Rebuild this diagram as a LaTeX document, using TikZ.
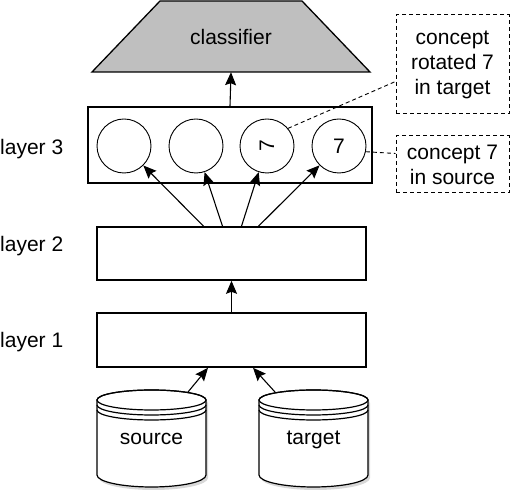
\documentclass[tikz,border=0pt]{standalone}
\usepackage{fontspec}
\setmainfont{Liberation Sans}
\usepackage{graphicx}
\usetikzlibrary{shapes.geometric, arrows.meta, shadows}

\begin{document}
\begin{tikzpicture}[
    x=1pt, y=1pt,
    font=\fontsize{21}{25}\selectfont,
    layerbox/.style={rectangle, draw, line width=1.6pt, minimum width=269pt, minimum height=53pt},
    unit/.style={circle, draw, line width=0.9pt, minimum size=54pt, inner sep=0pt},
    note/.style={rectangle, draw, dash pattern=on 4pt off 3pt, line width=1pt, minimum width=113pt, align=center, inner sep=0pt},
    arrow/.style={-{Stealth[length=13pt, width=11pt, inset=2pt]}, line width=1.1pt},
    link/.style={dash pattern=on 4pt off 3pt, line width=0.9pt},
    label/.style={anchor=base west, inner sep=0pt},
    db/.style={line width=1.2pt}
]
\useasboundingbox (0,0) rectangle (512,498);

% Classifier
\coordinate (clfsw) at (92,426);
\coordinate (clfse) at (370,426);
\draw[line width=1.3pt, fill=gray!50] (clfsw) -- ([xshift=68pt, yshift=71pt]clfsw)
  -- ([xshift=-68pt, yshift=71pt]clfse) -- (clfse) -- cycle;
\node[minimum width=278pt, minimum height=71pt, inner sep=0pt] (clf) at (231,461.5) {classifier};

% Layer 3 with units
\node[rectangle, draw, line width=1.6pt, minimum width=284pt, minimum height=76pt] (l3) at (230,353) {};
\node[unit] (c1) at (124,352) {};
\node[unit] (c2) at (196,352) {};
\node[unit] (c3) at (267,352) {\rotatebox{90}{7}};
\node[unit] (c4) at (339,352) {7};

% Layer 2 and layer 1
\node[layerbox] (l2) at (231.5,244.5) {};
\node[layerbox, minimum height=54pt] (l1) at (231.5,158) {};

% Layer labels
\node[label] (lab3) at (0,343) {layer 3};
\node[label] (lab2) at (0,246) {layer 2};
\node[label] (lab1) at (0,150) {layer 1};

% Notes
\node[note, minimum height=99pt] (note1) at (452.5,433.5) {concept\\rotated 7\\in target};
\node[note, minimum height=57pt] (note2) at (452.5,333.5) {concept 7\\in source};

% Data sets
\foreach \cx/\cname/\ctext in {151.5/src/source, 313.5/tgt/target}{
  \draw[db, fill=white, drop shadow={shadow xshift=2pt, shadow yshift=-3pt, fill=gray!60, opacity=0.5}]
    (\cx-54.5,98) -- (\cx-54.5,23) arc[start angle=180, end angle=360, x radius=54.5, y radius=12]
    -- (\cx+54.5,98) arc[start angle=0, end angle=180, x radius=54.5, y radius=10] -- cycle;
  \draw[db] (\cx,98) ellipse[x radius=54.5, y radius=10];
  \draw[db] (\cx-54.5,93) arc[start angle=180, end angle=360, x radius=54.5, y radius=10];
  \draw[db] (\cx-54.5,88) arc[start angle=180, end angle=360, x radius=54.5, y radius=10];
  \node[anchor=base, inner sep=0pt] (\cname) at (\cx,53) {\ctext};
}
\coordinate (srcout) at (188,106);
\coordinate (tgtout) at (275,106);

% Arrows
\draw[arrow] (srcout) -- ([xshift=-23.5pt]l1.south);
\draw[arrow] (tgtout) -- ([xshift=21.5pt]l1.south);
\draw[arrow] (l1.north) -- (l2.south);
\draw[arrow] ([xshift=-28pt]l2.north) -- (c1);
\draw[arrow] ([xshift=-9pt]l2.north) -- (c2);
\draw[arrow] ([xshift=10pt]l2.north) -- (c3);
\draw[arrow] ([xshift=27pt]l2.north) -- (c4);
\draw[arrow] (l3.north) -- (clf.south);

% Note links
\draw[link] (c3.40) -- ([yshift=-17pt]note1.west);
\draw[link] (c4.-12) -- ([yshift=11pt]note2.west);

\end{tikzpicture}
\end{document}
